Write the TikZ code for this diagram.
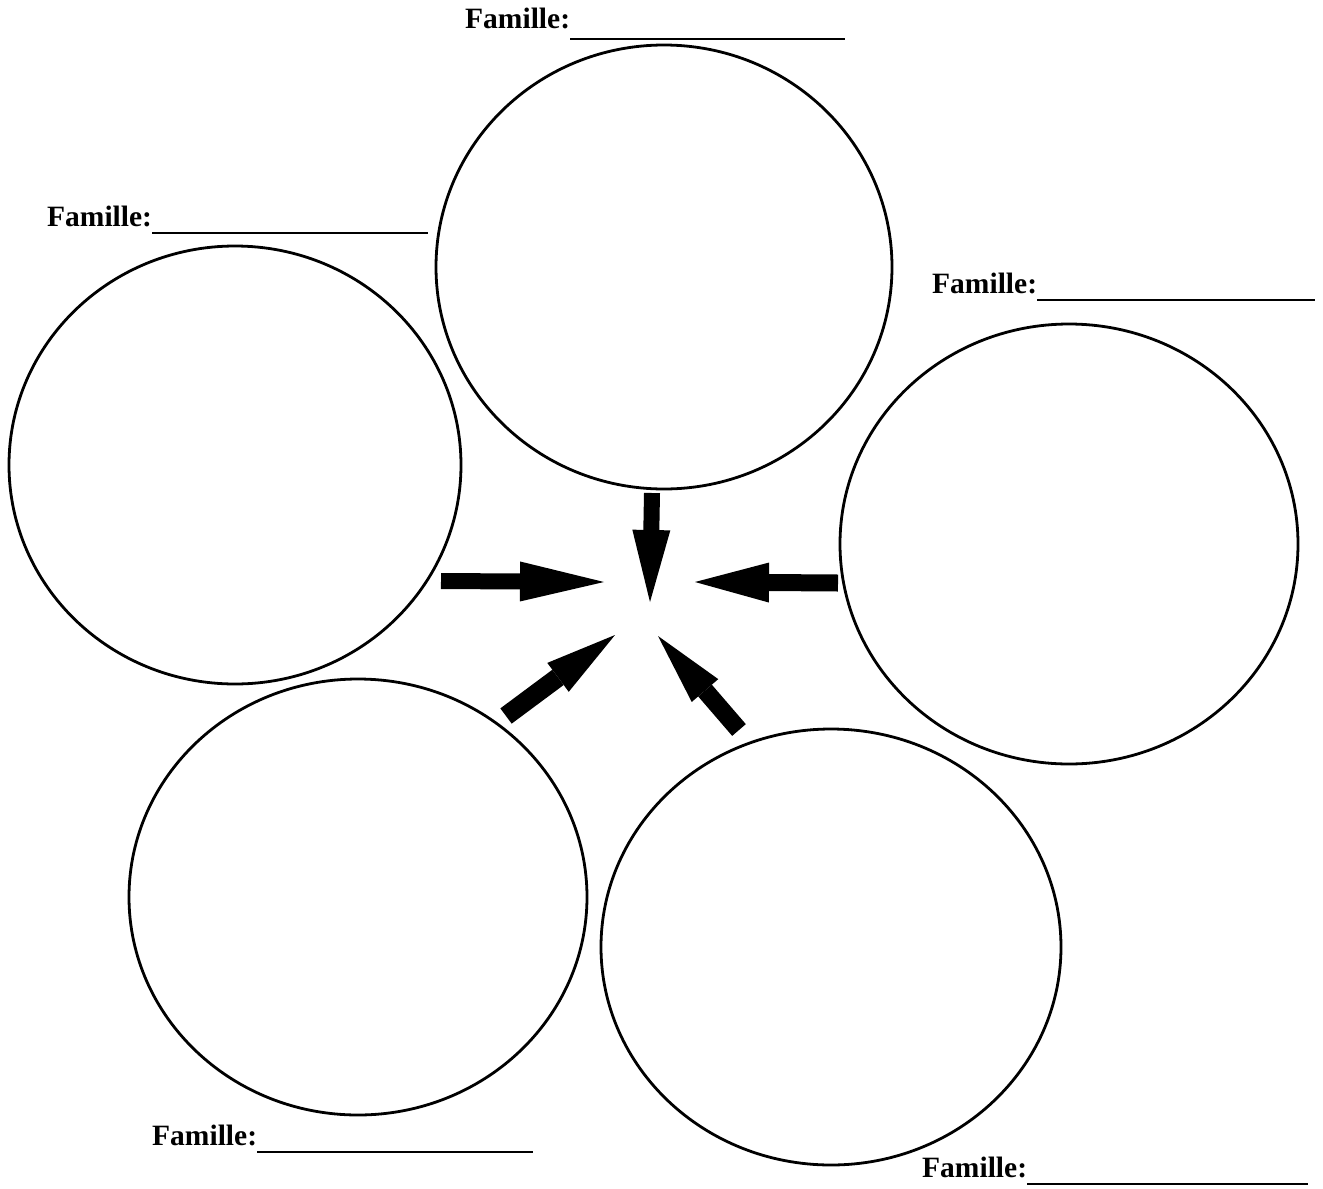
\documentclass[tikz,border=0pt]{standalone}
\usepackage{fontspec}
\setmainfont{Liberation Serif}
\usetikzlibrary{shapes.geometric,arrows.meta}
\begin{document}
\begin{tikzpicture}[x=1pt,y=-1pt,
  family/.style={ellipse,draw,line width=2.8pt,inner sep=0pt},
  lab/.style={anchor=base west,inner sep=0pt,font=\fontsize{29.5}{30}\selectfont\bfseries},
  rule/.style={line width=2.8pt}]
\useasboundingbox[fill=white] (0,0) rectangle (1323,1189);

% the five family circles
\node[family,minimum width=456pt,minimum height=444pt] (top) at (664,267) {};
\node[family,minimum width=452pt,minimum height=438pt] (left) at (235,465) {};
\node[family,minimum width=458pt,minimum height=440pt] (right) at (1069,544) {};
\node[family,minimum width=458pt,minimum height=436pt] (botl) at (358,897) {};
\node[family,minimum width=460pt,minimum height=436pt] (botr) at (831,947) {};

% name fields
\node[lab] (ltop) at (465,28) {Famille:};
\coordinate (etop) at (845,39);
\draw[rule] (ltop.base east |- etop) -- (etop);

\node[lab] (lleft) at (47,226) {Famille:};
\coordinate (eleft) at (428,233);
\draw[rule] (lleft.base east |- eleft) -- (eleft);

\node[lab] (lright) at (932,293) {Famille:};
\coordinate (eright) at (1315,300);
\draw[rule] (lright.base east |- eright) -- (eright);

\node[lab] (lbotl) at (152,1145) {Famille:};
\coordinate (ebotl) at (533,1152);
\draw[rule] (lbotl.base east |- ebotl) -- (ebotl);

\node[lab] (lbotr) at (922,1177) {Famille:};
\coordinate (ebotr) at (1308,1184);
\draw[rule] (lbotr.base east |- ebotr) -- (ebotr);

% arrows pointing to the centre
\coordinate (t0) at (652,493);  \coordinate (t1) at (650,602);
\coordinate (l0) at (441,581);  \coordinate (l1) at (604,582);
\coordinate (r0) at (838,583);  \coordinate (r1) at (695,582);
\coordinate (bl0) at (506,716); \coordinate (bl1) at (615,635);
\coordinate (br0) at (739,730); \coordinate (br1) at (658,636);

\draw[line width=16pt,-{Triangle[length=72pt,width=38pt,line width=0pt]}] (t0) -- (t1);
\draw[line width=16pt,-{Triangle[length=84pt,width=40pt,line width=0pt]}] (l0) -- (l1);
\draw[line width=17pt,-{Triangle[length=74pt,width=40pt,line width=0pt]}] (r0) -- (r1);
\draw[line width=19pt,-{Triangle[length=71pt,width=36pt,line width=0pt]}] (bl0) -- (bl1);
\draw[line width=18pt,-{Triangle[length=72pt,width=35pt,line width=0pt]}] (br0) -- (br1);
\end{tikzpicture}
\end{document}
